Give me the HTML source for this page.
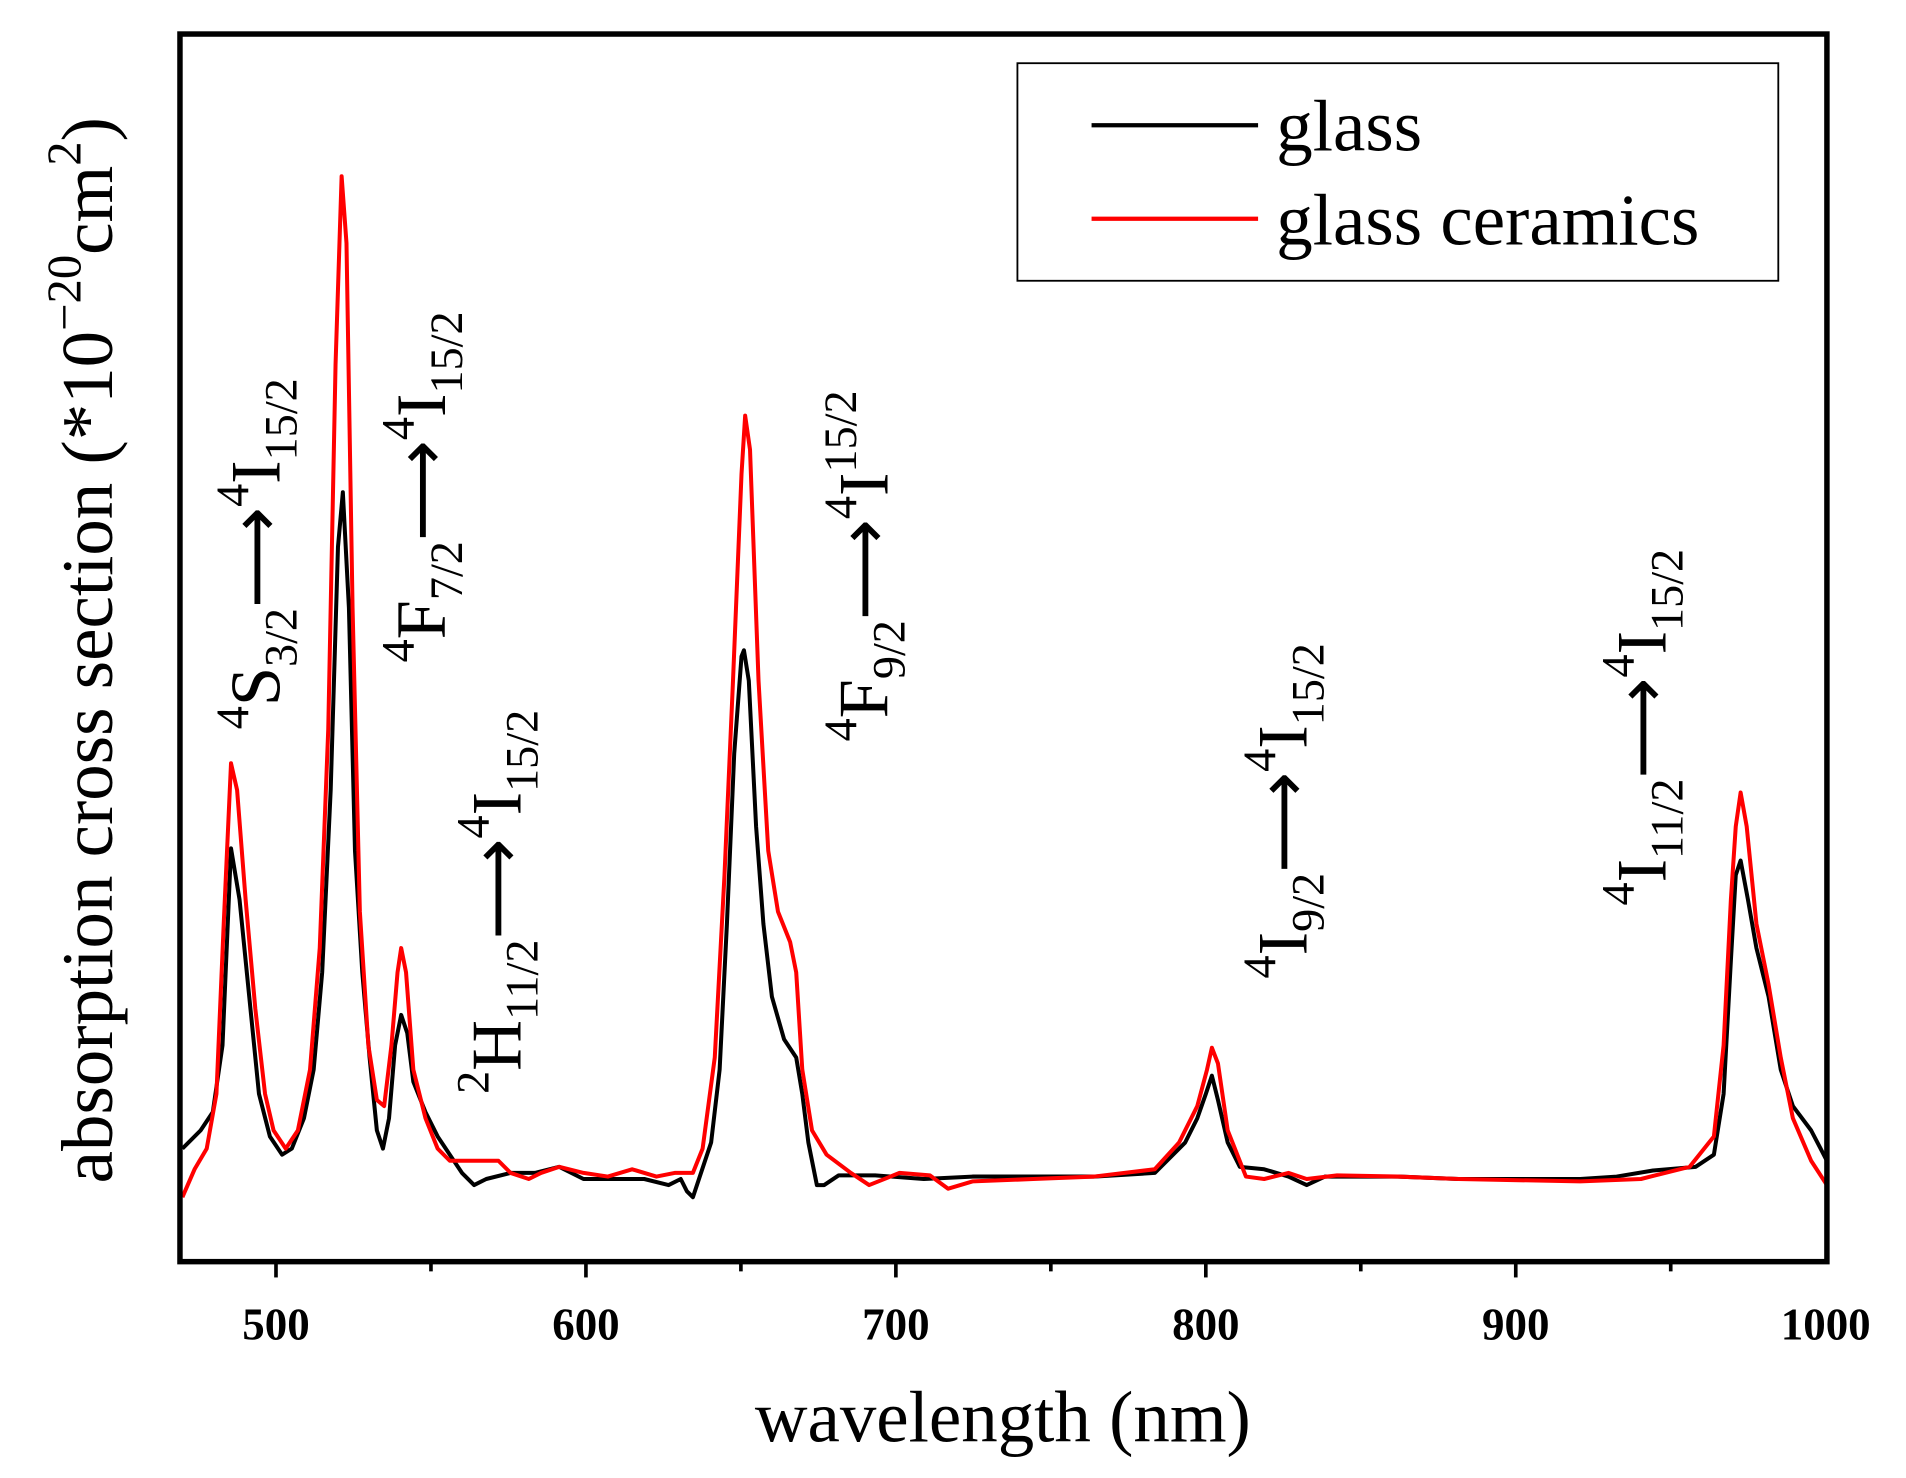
<!DOCTYPE html>
<html><head><meta charset="utf-8"><style>html,body{margin:0;padding:0;background:#fff}svg{display:block}.ar{font-family:"DejaVu Sans",sans-serif;font-weight:normal}</style></head>
<body>
<svg width="1906" height="1478" viewBox="0 0 1568 1216" xmlns="http://www.w3.org/2000/svg" font-family="'Liberation Serif', serif">
<rect width="1568" height="1216" fill="#fff"/>
<g stroke="#000" stroke-width="3">
<line x1="227" y1="1038" x2="227" y2="1051"/><line x1="482" y1="1038" x2="482" y2="1051"/><line x1="737" y1="1038" x2="737" y2="1051"/><line x1="992" y1="1038" x2="992" y2="1051"/><line x1="1247" y1="1038" x2="1247" y2="1051"/>
<line x1="354.5" y1="1038" x2="354.5" y2="1046"/><line x1="609.5" y1="1038" x2="609.5" y2="1046"/><line x1="864.5" y1="1038" x2="864.5" y2="1046"/><line x1="1119.5" y1="1038" x2="1119.5" y2="1046"/><line x1="1374.5" y1="1038" x2="1374.5" y2="1046"/>
</g>
<g font-weight="bold" font-size="37" text-anchor="middle">
<text x="227" y="1102">500</text><text x="482" y="1102">600</text><text x="737" y="1102">700</text><text x="992" y="1102">800</text><text x="1247" y="1102">900</text><text x="1502" y="1102">1000</text>
</g>
<text x="825" y="1186" font-size="60" text-anchor="middle">wavelength (nm)</text>
<text transform="translate(92,535) rotate(-90)" font-size="60" text-anchor="middle">absorption cross section (*10<tspan font-size="40" dy="-26">−20</tspan><tspan dy="26">cm</tspan><tspan font-size="40" dy="-26">2</tspan><tspan dy="26">)</tspan></text>
<g fill="none" stroke-width="3.3" stroke-linejoin="round">
<polyline stroke="#000" points="150,945 165,930 175,915 183,860 190,698 197,740 205,820 213,900 222,935 232,950 240,945 250,920 258,880 265,800 272,650 278,450 282,405 287,500 292,700 298,800 304,870 310,930 315,945 320,920 325,860 330,835 335,850 340,890 350,915 360,935 370,950 380,965 390,975 400,970 420,965 440,965 460,960 480,970 500,970 530,970 550,975 560,970 565,980 570,985 575,970 585,940 592,880 598,760 604,620 610,540 612,535 616,560 622,680 628,760 635,820 645,855 655,870 660,900 665,940 672,975 678,975 690,967 720,967 760,970 800,968 850,968 900,968 950,965 975,940 985,920 992,900 997,885 1002,905 1010,940 1020,960 1040,962 1060,968 1075,975 1090,968 1150,968 1200,970 1300,970 1330,968 1360,963 1395,960 1410,950 1418,900 1424,790 1428,720 1432,708 1438,740 1445,780 1455,820 1465,880 1475,910 1490,930 1503,955"/>
<polyline stroke="#f00" points="150,985 160,962 170,945 178,900 184,760 190,628 195,650 202,740 210,830 218,900 225,930 235,945 245,930 255,880 263,780 270,600 276,300 281,145 285,200 290,500 296,750 303,860 310,905 316,910 322,860 327,800 330,780 334,800 340,880 350,920 360,945 370,955 390,955 410,955 420,965 435,970 445,965 460,960 480,965 500,968 520,962 540,968 555,965 570,965 578,945 588,870 596,720 603,560 610,390 613,342 617,370 624,560 632,700 640,750 650,775 655,800 660,880 668,930 680,950 700,965 715,975 740,965 765,967 780,978 800,972 850,970 900,968 950,962 970,940 985,910 993,880 997,862 1002,875 1010,930 1025,968 1040,970 1060,965 1075,970 1100,967 1150,968 1200,970 1300,972 1350,970 1390,960 1410,935 1418,860 1424,740 1428,680 1432,652 1437,680 1445,760 1455,810 1465,870 1475,920 1490,955 1503,975"/>
</g>
<rect x="148" y="28" width="1355" height="1010" fill="none" stroke="#000" stroke-width="4.5"/>
<rect x="837" y="52" width="626" height="179" fill="#fff" stroke="#000" stroke-width="1.5"/>
<line x1="898" y1="103" x2="1035" y2="103" stroke="#000" stroke-width="3.5"/>
<line x1="898" y1="180" x2="1035" y2="180" stroke="#f00" stroke-width="3.5"/>
<g font-size="60"><text x="1050" y="124">glass</text><text x="1050" y="201">glass ceramics</text></g>
<g font-size="58">
<text transform="translate(230,600) rotate(-90)"><tspan font-size="38" dy="-26">4</tspan><tspan dy="26">S</tspan><tspan font-size="38" dy="14">3/2</tspan><tspan class="ar" dy="-14">⟶</tspan><tspan font-size="38" dy="-26">4</tspan><tspan dy="26">I</tspan><tspan font-size="38" dy="14">15/2</tspan></text>
<text transform="translate(366,545) rotate(-90)"><tspan font-size="38" dy="-26">4</tspan><tspan dy="26">F</tspan><tspan font-size="38" dy="14">7/2</tspan><tspan class="ar" dy="-14">⟶</tspan><tspan font-size="38" dy="-26">4</tspan><tspan dy="26">I</tspan><tspan font-size="38" dy="14">15/2</tspan></text>
<text transform="translate(428,900) rotate(-90)"><tspan font-size="38" dy="-26">2</tspan><tspan dy="26">H</tspan><tspan font-size="38" dy="14">11/2</tspan><tspan class="ar" dy="-14">⟶</tspan><tspan font-size="38" dy="-26">4</tspan><tspan dy="26">I</tspan><tspan font-size="38" dy="14">15/2</tspan></text>
<text transform="translate(730,610) rotate(-90)"><tspan font-size="38" dy="-26">4</tspan><tspan dy="26">F</tspan><tspan font-size="38" dy="14">9/2</tspan><tspan class="ar" dy="-14">⟶</tspan><tspan font-size="38" dy="-26">4</tspan><tspan dy="26">I</tspan><tspan font-size="38" dy="-26">15/2</tspan></text>
<text transform="translate(1075,805) rotate(-90)"><tspan font-size="38" dy="-26">4</tspan><tspan dy="26">I</tspan><tspan font-size="38" dy="14">9/2</tspan><tspan class="ar" dy="-14">⟶</tspan><tspan font-size="38" dy="-26">4</tspan><tspan dy="26">I</tspan><tspan font-size="38" dy="14">15/2</tspan></text>
<text transform="translate(1370,745) rotate(-90)"><tspan font-size="38" dy="-26">4</tspan><tspan dy="26">I</tspan><tspan font-size="38" dy="14">11/2</tspan><tspan class="ar" dy="-14">⟶</tspan><tspan font-size="38" dy="-26">4</tspan><tspan dy="26">I</tspan><tspan font-size="38" dy="14">15/2</tspan></text>
</g>
</svg>
</body></html>
